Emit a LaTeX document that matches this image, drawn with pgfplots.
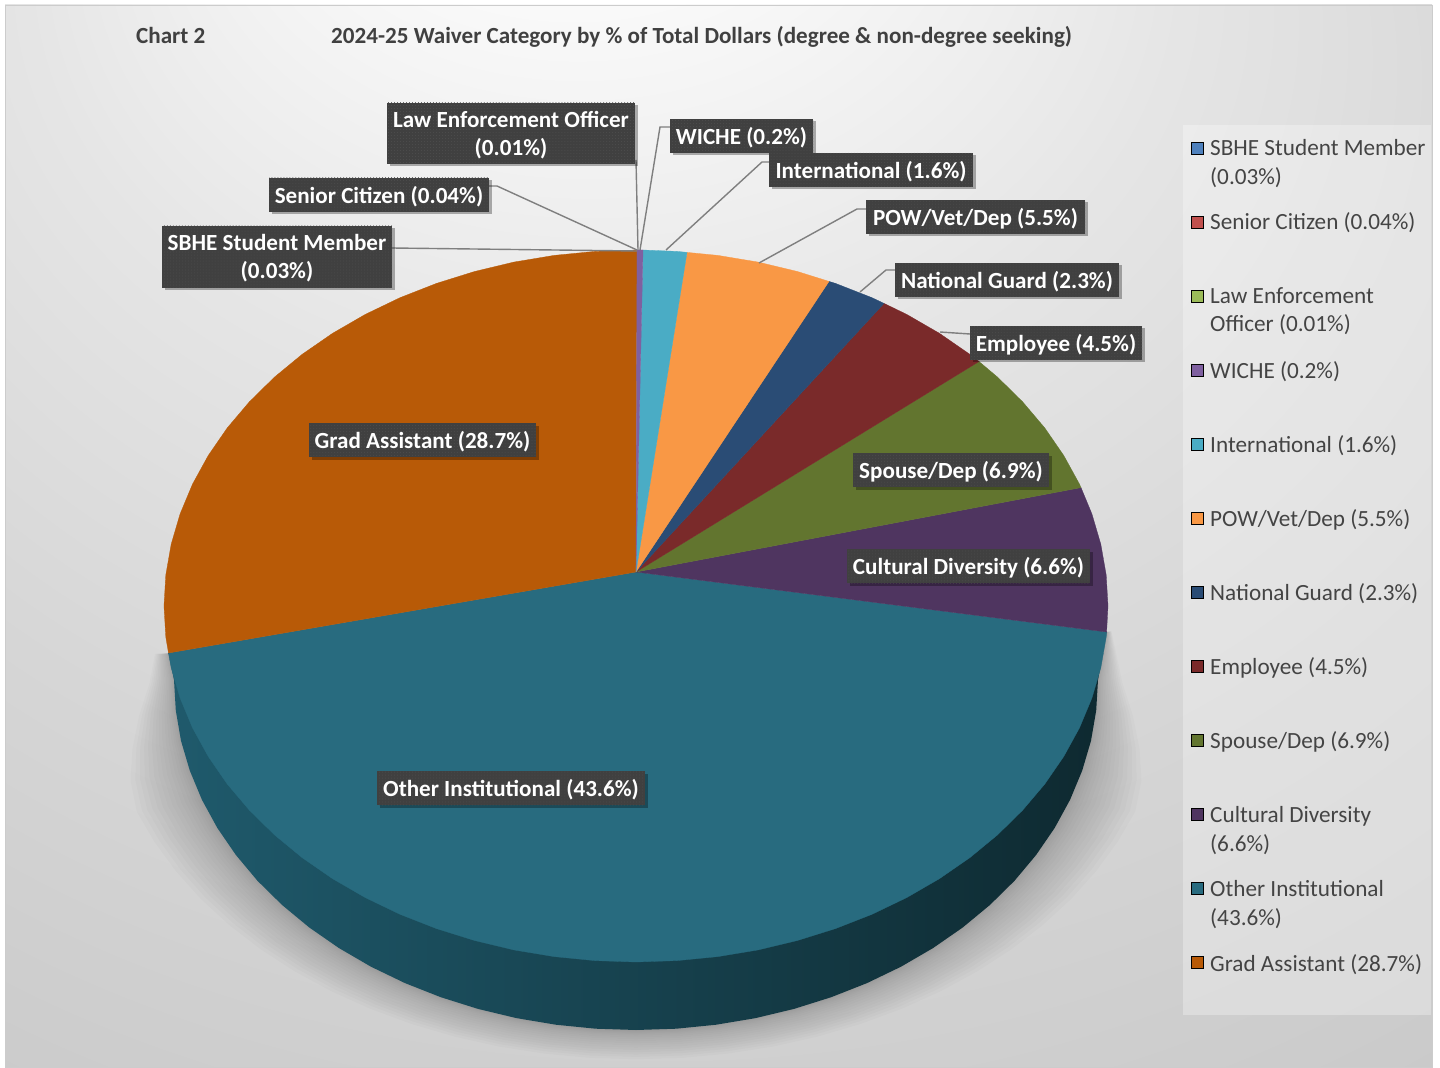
\documentclass[border=0pt]{standalone}
\usepackage{fontspec}
\setmainfont{Carlito}
\usepackage{pgfplots}
\usepackage{pgfplotstable}
\pgfplotsset{compat=1.18}
\usetikzlibrary{shadows,patterns}

\definecolor{cGrad}{HTML}{B85A07}
\definecolor{cOther}{HTML}{286B7F}
\definecolor{cCult}{HTML}{4F3560}
\definecolor{cSpouse}{HTML}{62752F}
\definecolor{cEmp}{HTML}{7A2A2A}
\definecolor{cNG}{HTML}{2A4C75}
\definecolor{cPOW}{HTML}{F99845}
\definecolor{cIntl}{HTML}{4AACC5}
\definecolor{cWICHE}{HTML}{7F60A0}
\definecolor{cSBHE}{HTML}{4F81BD}
\definecolor{cSenior}{HTML}{C0504D}
\definecolor{cLaw}{HTML}{9BBB59}
\definecolor{boxgray}{HTML}{404040}
\definecolor{boxdot}{HTML}{4E4E4E}
\definecolor{leader}{HTML}{7F7F7F}
\definecolor{legtext}{HTML}{444444}
\definecolor{sideL}{HTML}{1F5A6C}
\definecolor{sideM}{HTML}{102D38}
\definecolor{sideR}{HTML}{0E2930}

% page background, white at the top, grey towards the corners
\pgfdeclareradialshading{pagebg}{\pgfpoint{-6bp}{40bp}}{
  rgb(0bp)=(1,1,1); rgb(8bp)=(.985,.985,.985); rgb(20bp)=(.90,.90,.90);
  rgb(32bp)=(.84,.84,.84); rgb(45bp)=(.79,.79,.79); rgb(60bp)=(.76,.76,.76)}

% lower edge of the pie, used for the shadow
\pgfplotstableread{
x y
1106.6 632
1098 680
1096.2 710.5
1091 740.8
1082.2 770.6
1070.1 799.7
1054.7 827.9
1036.1 855
1014.5 880.8
989.9 905
962.7 927.5
933 948.1
901 966.7
867 983.1
831.2 997.2
794 1008.9
755.6 1018.1
716.2 1024.7
676.3 1028.7
636 1030
595.7 1028.7
555.8 1024.7
516.4 1018.1
478 1008.9
440.8 997.2
405 983.1
371 966.7
339 948.1
309.3 927.5
282.1 905
257.5 880.8
235.9 855
217.3 827.9
201.9 799.7
189.8 770.6
181 740.8
175.8 710.5
174 680
168.5 653
}\silhouette

\newcommand{\lbl}[5]{%
  \node[fill=boxgray, inner sep=0pt,
    minimum width=#3bp, minimum height=#4bp,
    drop shadow={shadow xshift=2.5bp, shadow yshift=-2.5bp, opacity=.3, fill=black},
    postaction={pattern=dots, pattern color=boxdot}]
    at (axis cs:#1,#2) {};
  \node[text=white, inner sep=0pt, align=center, yshift=-1.5bp,
    font=\fontsize{23.1bp}{28bp}\bfseries\selectfont]
    at (axis cs:#1,#2) {#5};}
\newcommand{\legtxt}[3]{%
  \node[anchor=west, inner sep=0pt, text=legtext, align=left, yshift=-1.5bp,
    font=\fontsize{23.2bp}{28.4bp}\selectfont]
    at (axis cs:#1,#2) {#3};}

\begin{document}
\begin{tikzpicture}
\begin{axis}[
    hide axis, scale only axis,
    width=1440bp, height=1068bp,
    xmin=0, xmax=1440, ymin=0, ymax=1068,
    y dir=reverse, clip=false,
  ]
  \path[fill=white] (axis cs:0,0) rectangle (axis cs:1440,1068);
  \path[shading=pagebg, draw=gray!40, line width=.6bp] (axis cs:5,5) rectangle (axis cs:1432,1067);

  % soft shadow under the pie
  \pgfplotsinvokeforeach{1,.92,.84,.76,.68,.6,.52,.45,.38,.31,.25,.19,.14,.1,.06,.03}{
    \addplot[fill=black, fill opacity=.016, draw=none] table[
      x expr={\thisrow{x}+(\thisrow{x}-636)*0.15*#1*min(1,max(0,(\thisrow{y}-620)/170))},
      y expr={\thisrow{y}+(\thisrow{y}-640)*0.075*#1}] {\silhouette};
  }

  % legend panel
  \path[fill=white, fill opacity=.3] (axis cs:1183,125) rectangle (axis cs:1431,1015);

  % side of the pie
  \addplot[left color=sideL, middle color=sideM, right color=sideR, draw=none] coordinates {
    (1106.6,632)
    (1098,680) (1096.2,710.5) (1091,740.8) (1082.2,770.6) (1070.1,799.7) (1054.7,827.9)
    (1036.1,855) (1014.5,880.8) (989.9,905) (962.7,927.5) (933,948.1) (901,966.7) (867,983.1)
    (831.2,997.2) (794,1008.9) (755.6,1018.1) (716.2,1024.7) (676.3,1028.7) (636,1030)
    (595.7,1028.7) (555.8,1024.7) (516.4,1018.1) (478,1008.9) (440.8,997.2) (405,983.1)
    (371,966.7) (339,948.1) (309.3,927.5) (282.1,905) (257.5,880.8) (235.9,855) (217.3,827.9)
    (201.9,799.7) (189.8,770.6) (181,740.8) (175.8,710.5) (174,680) (168.5,653) (636,640)
  };

  % top of the pie, one slice per category
  \addplot[fill=cOther, draw=cOther, line width=.3bp] coordinates {
    (636,572) (1106.6,632) (1106.2,637) (1100.8,667.8) (1091.9,698.1) (1079.5,727.8) (1063.8,756.4)
    (1044.8,784) (1022.6,810.2) (997.6,834.8) (969.8,857.7) (939.4,878.7) (906.7,897.6) (872,914.3)
    (835.5,928.6) (797.4,940.5) (758.2,949.9) (717.9,956.6) (677.1,960.6) (636,962)
    (594.9,960.6) (554.1,956.6) (513.8,949.9) (474.6,940.5) (436.5,928.6) (400,914.3) (365.3,897.6)
    (332.6,878.7) (302.2,857.7) (274.4,834.8) (249.4,810.2) (227.2,784) (208.2,756.4) (192.5,727.8)
    (180.1,698.1) (171.2,667.8) (168.5,653) (636,572)
  };
  \addplot[fill=cGrad, draw=cGrad, line width=.3bp] coordinates {
    (636,572) (168.5,653) (165.8,637) (164,606) (165.8,575) (171.2,544.2) (180.1,513.9) (192.5,484.2)
    (208.2,455.6) (227.2,428) (249.4,401.8) (274.4,377.2) (302.2,354.3) (332.6,333.3) (365.3,314.4)
    (400,297.7) (436.5,283.4) (474.6,271.5) (513.8,262.1) (554.1,255.4) (594.9,251.4) (637,250) (636,572)
  };
  \addplot[fill=cCult, draw=cCult, line width=.3bp] coordinates {
    (636,572) (1081,487.6) (1091.9,513.9) (1100.8,544.2) (1106.2,575) (1108,606) (1106.6,632) (636,572)
  };
  \addplot[fill=cSpouse, draw=cSpouse, line width=.3bp] coordinates {
    (636,572) (979,361.5) (997.6,377.2) (1022.6,401.8) (1044.8,428) (1063.8,455.6) (1079.5,484.2) (1081,487.6) (636,572)
  };
  \addplot[fill=cEmp, draw=cEmp, line width=.3bp] coordinates {
    (636,572) (884,303.4) (906.7,314.4) (939.4,333.3) (969.8,354.3) (979,361.5) (636,572)
  };
  \addplot[fill=cNG, draw=cNG, line width=.3bp] coordinates {
    (636,572) (829,281.4) (835.5,283.4) (872,297.7) (884,303.4) (636,572)
  };
  \addplot[fill=cPOW, draw=cPOW, line width=.3bp] coordinates {
    (636,572) (687,252.4) (717.9,255.4) (758.2,262.1) (797.4,271.5) (829,281.4) (636,572)
  };
  \addplot[fill=cIntl, draw=cIntl, line width=.3bp] coordinates {
    (636,572) (643,250) (677.1,251.4) (687,252.4) (636,572)
  };
  \addplot[fill=cWICHE, draw=cWICHE, line width=.3bp] coordinates {
    (636,572) (637,250) (643,250) (636,572)
  };

  % leader lines
  \draw[leader, line width=1.4bp] (axis cs:636,160) -- (axis cs:638,250);
  \draw[leader, line width=1.4bp] (axis cs:489,186) -- (axis cs:497,186) -- (axis cs:637,250);
  \draw[leader, line width=1.4bp] (axis cs:392,248) -- (axis cs:637,251);
  \draw[leader, line width=1.4bp] (axis cs:670,127) -- (axis cs:660,127) -- (axis cs:640,250);
  \draw[leader, line width=1.4bp] (axis cs:769,162) -- (axis cs:762,162) -- (axis cs:666,250);
  \draw[leader, line width=1.4bp] (axis cs:866,209) -- (axis cs:857,209) -- (axis cs:759,263);
  \draw[leader, line width=1.4bp] (axis cs:895,270) -- (axis cs:886,270) -- (axis cs:860,292);
  \draw[leader, line width=1.4bp] (axis cs:970,334) -- (axis cs:940,332);

  % data labels
  \lbl{511}{133.5}{248}{61}{Law Enforcement Officer\\(0.01\%)}
  \lbl{379}{195}{220}{34}{Senior Citizen (0.04\%)}
  \lbl{277}{257}{230}{62}{SBHE Student Member\\(0.03\%)}
  \lbl{741.5}{136}{143}{34}{WICHE (0.2\%)}
  \lbl{871}{170}{204}{34}{International (1.6\%)}
  \lbl{975.5}{217}{219}{34}{POW/Vet/Dep (5.5\%)}
  \lbl{1007}{280}{224}{34}{National Guard (2.3\%)}
  \lbl{1056}{343}{172}{34}{Employee (4.5\%)}
  \lbl{951}{470}{196}{34}{Spouse/Dep (6.9\%)}
  \lbl{968.5}{566}{243}{34}{Cultural Diversity (6.6\%)}
  \lbl{511}{788}{268}{34}{Other Institutional (43.6\%)}
  \lbl{422.5}{440}{227}{34}{Grad Assistant (28.7\%)}

  % legend keys
  \addplot[only marks, mark=square*, mark size=6bp, mark options={fill=cSBHE, draw=none}] coordinates {(1197,148)};
  \addplot[only marks, mark=square*, mark size=6bp, mark options={fill=cSenior, draw=none}] coordinates {(1197,222)};
  \addplot[only marks, mark=square*, mark size=6bp, mark options={fill=cLaw, draw=none}] coordinates {(1197,296)};
  \addplot[only marks, mark=square*, mark size=6bp, mark options={fill=cWICHE, draw=none}] coordinates {(1197,370)};
  \addplot[only marks, mark=square*, mark size=6bp, mark options={fill=cIntl, draw=none}] coordinates {(1197,444)};
  \addplot[only marks, mark=square*, mark size=6bp, mark options={fill=cPOW, draw=none}] coordinates {(1197,518)};
  \addplot[only marks, mark=square*, mark size=6bp, mark options={fill=cNG, draw=none}] coordinates {(1197,592)};
  \addplot[only marks, mark=square*, mark size=6bp, mark options={fill=cEmp, draw=none}] coordinates {(1197,666)};
  \addplot[only marks, mark=square*, mark size=6bp, mark options={fill=cSpouse, draw=none}] coordinates {(1197,740)};
  \addplot[only marks, mark=square*, mark size=6bp, mark options={fill=cCult, draw=none}] coordinates {(1197,814)};
  \addplot[only marks, mark=square*, mark size=6bp, mark options={fill=cOther, draw=none}] coordinates {(1197,888)};
  \addplot[only marks, mark=square*, mark size=6bp, mark options={fill=cGrad, draw=none}] coordinates {(1197,962)};

  % legend texts
  \legtxt{1210}{162}{SBHE Student Member\\(0.03\%)}
  \legtxt{1210}{221.5}{Senior Citizen (0.04\%)}
  \legtxt{1210}{309.5}{Law Enforcement\\Officer (0.01\%)}
  \legtxt{1210}{370}{WICHE (0.2\%)}
  \legtxt{1210}{444}{International (1.6\%)}
  \legtxt{1210}{518}{POW/Vet/Dep (5.5\%)}
  \legtxt{1210}{592}{National Guard (2.3\%)}
  \legtxt{1210}{666}{Employee (4.5\%)}
  \legtxt{1210}{740}{Spouse/Dep (6.9\%)}
  \legtxt{1210}{829}{Cultural Diversity\\(6.6\%)}
  \legtxt{1210}{903}{Other Institutional\\(43.6\%)}
  \legtxt{1210}{963}{Grad Assistant (28.7\%)}

  % titles
  \node[anchor=west, inner sep=0pt, text=boxgray, yshift=-1.5bp, font=\fontsize{23.1bp}{28bp}\bfseries\selectfont]
    at (axis cs:136,34) {Chart 2};
  \node[anchor=west, inner sep=0pt, text=boxgray, yshift=-1.5bp, font=\fontsize{23.1bp}{28bp}\bfseries\selectfont]
    at (axis cs:331,35) {2024-25 Waiver Category by \% of Total Dollars (degree \& non-degree seeking)};
\end{axis}
\end{tikzpicture}
\end{document}
